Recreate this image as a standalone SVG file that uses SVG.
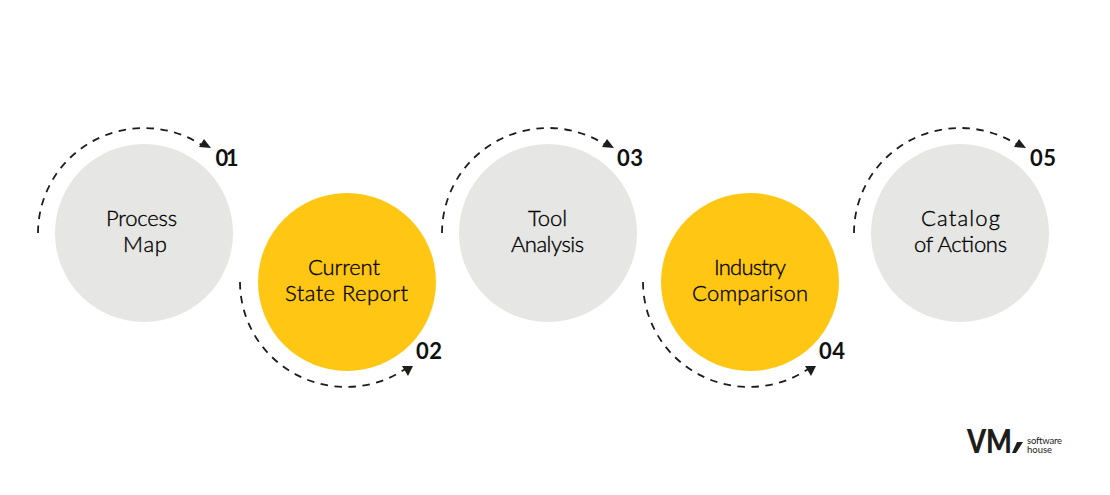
<svg xmlns="http://www.w3.org/2000/svg" width="1110" height="495" viewBox="0 0 1110 495">
<style>
.g{fill:#e6e6e5}.y{fill:#ffc713}
.l{font:300 22px "Lato","Liberation Sans",sans-serif;fill:#000;text-anchor:middle;stroke:#000;stroke-width:.35px}
.n{font:700 22px "Lato","Liberation Sans",sans-serif;fill:#111;text-anchor:middle}
.a{fill:none;stroke:#1d1d1b;stroke-width:1.8;stroke-dasharray:7.5 6.5}
.h{fill:#1d1d1b}
.s{font:400 9.5px "Lato","Liberation Sans",sans-serif;fill:#1d1d1b}
</style>
<rect width="1110" height="495" fill="#fff"/>
<g id="connectors">
<path class="a" d="M38 233A106 105 0 0 1 203 145.800"/><path class="h" d="M204 139L211 148L199 147Z"/>
<path class="a" d="M240 282A106 105 0 0 0 405 369.200"/><path class="h" d="M402 366L413 366L408 376Z"/>
<path class="a" d="M442 233A106 105 0 0 1 606 145.100"/><path class="h" d="M607 139L614 148L602 147Z"/>
<path class="a" d="M643 282A106 105 0 0 0 808 369.200"/><path class="h" d="M805 366L816 366L811 376Z"/>
<path class="a" d="M854 233A106 105 0 0 1 1018 145.100"/><path class="h" d="M1019 139L1026 148L1014 147Z"/>
</g>
<g id="node-1"><circle class="g" cx="144" cy="233" r="89"/><text class="l" x="141.500" y="226" textLength="71">Process</text><text class="l" x="145" y="252" textLength="44">Map</text><text class="n" x="227" y="166" textLength="23">01</text></g>
<g id="node-2"><circle class="y" cx="347" cy="282" r="89"/><text class="l" x="344" y="275" textLength="72">Current</text><text class="l" x="346.500" y="301" textLength="123">State Report</text><text class="n" x="429" y="359" textLength="26">02</text></g>
<g id="node-3"><circle class="g" cx="548" cy="233" r="89"/><text class="l" x="547.500" y="226" textLength="39">Tool</text><text class="l" x="547.500" y="252" textLength="73">Analysis</text><text class="n" x="630" y="166" textLength="26">03</text></g>
<g id="node-4"><circle class="y" cx="750" cy="282" r="89"/><text class="l" x="750" y="275" textLength="72">Industry</text><text class="l" x="750" y="301" textLength="116">Comparison</text><text class="n" x="832" y="359" textLength="26">04</text></g>
<g id="node-5"><circle class="g" cx="960" cy="233" r="89"/><text class="l" x="960.500" y="226" textLength="79">Catalog</text><text class="l" x="960.500" y="252" textLength="93">of Actions</text><text class="n" x="1043" y="166" textLength="26">05</text></g>
<g id="logo"><text x="967" y="453" font-family="Lato,'Liberation Sans',sans-serif" font-weight="900" font-size="32" fill="#1d1d1b" textLength="45" lengthAdjust="spacingAndGlyphs">VM</text><path class="h" d="M1012 453H1016L1023 442H1017Z"/><text class="s" x="1027" y="444" textLength="35">software</text><text class="s" x="1027" y="453">house</text></g>
</svg>
